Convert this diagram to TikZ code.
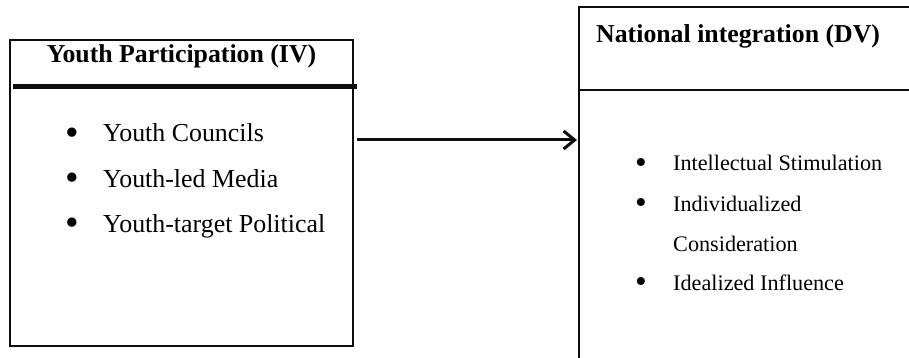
\documentclass[tikz,border=0pt]{standalone}
\usepackage{fontspec}
\setmainfont{Liberation Serif}
\usepackage{graphicx}
\usepackage{tikz}
\usetikzlibrary{
  arrows.meta,
  positioning,
  calc
}
\usepackage{xcolor}
\definecolor{inkBlack}{rgb}{0.05,0.05,0.05}
\newcommand{\itemDot}{\makebox[38pt][l]{\raisebox{-0.12em}{\scalebox{1.5}{\textbullet}}}}
\tikzset{
  varBox/.style={
    draw=inkBlack,
    line width=2pt,
    inner sep=0pt
  },
  headText/.style={
    font=\fontsize{25.8}{30}\selectfont\bfseries,
    inner sep=0pt
  },
  ivItem/.style={
    font=\fontsize{25.9}{30}\selectfont,
    anchor=base west,
    inner sep=0pt
  },
  dvItem/.style={
    font=\fontsize{22.2}{26}\selectfont,
    anchor=base west,
    inner sep=0pt
  }
}

\begin{document}
\begin{tikzpicture}[
      x=1pt, y=-1pt,
      >={Straight Barb[length=11pt,width=18pt,line width=3pt]}
      ]
      \path[use as bounding box, clip] (0,0) rectangle (909,358);

      % the two boxes
      \node[varBox, minimum width=343pt, minimum height=306pt] (ivBox) at (181.5,193) {};
      \node[varBox, minimum width=351pt, minimum height=373pt] (dvBox) at (754.5,193.5) {};

      % headings
      \node[headText, anchor=base] (ivHead) at (181.5,63) {Youth Participation (IV)};
      \node[headText, anchor=base west] (dvHead) at (596,43) {National integration (DV)};

      \draw[inkBlack, line width=5pt] (13,87) -- (357,87);
      \draw[inkBlack, line width=2pt] (579,90) -- (930,90);

      % bullet lists
      \foreach \i/\txt in {1/Youth Councils, 2/Youth-led Media, 3/Youth-target Political}{
        \node[ivItem] (iv\i) at (65,97+45*\i) {\itemDot\txt};
      }

      \node[dvItem] (dv1) at (635,171) {\itemDot Intellectual Stimulation};
      \node[dvItem] (dv2) at (635,211) {\itemDot Individualized};
      \node[dvItem] (dv2b) at (673,251) {Consideration};
      \node[dvItem] (dv3) at (635,290) {\itemDot Idealized Influence};

      \coordinate (arrowStart) at ([yshift=53pt]ivBox.east);
      \draw[->, line width=3pt, color=inkBlack, shorten >=1pt]
      ([xshift=3pt]arrowStart) -- (arrowStart -| dvBox.west);
    \end{tikzpicture}
\end{document}
